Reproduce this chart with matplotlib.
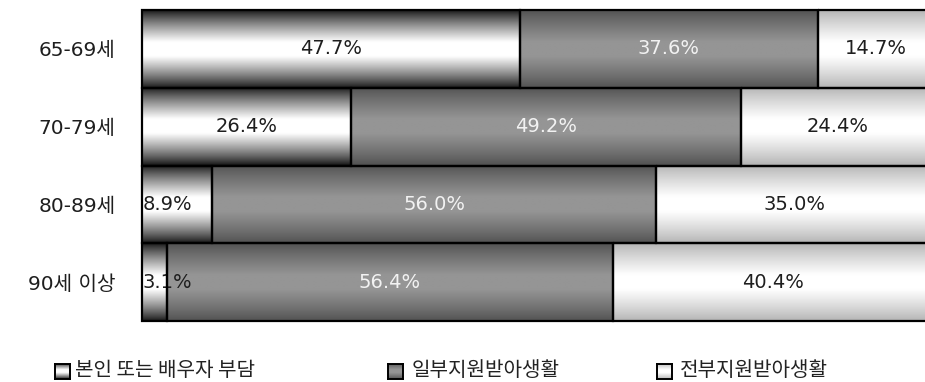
import numpy as np
import matplotlib
matplotlib.use("Agg")
import matplotlib.pyplot as plt
from matplotlib.colors import LinearSegmentedColormap

# Age groups (top to bottom) and living-cost source shares (%)
categories = ["65-69세", "70-79세", "80-89세", "90세 이상"]
series_names = ["본인 또는 배우자 부담", "일부지원받아생활", "전부지원받아생활"]
self_pay = [47.7, 26.4, 8.9, 3.1]
partial_support = [37.6, 49.2, 56.0, 56.4]
full_support = [14.7, 24.4, 35.0, 40.4]

series_values = [self_pay, partial_support, full_support]
edge_colors = ["#161616", "#515151", "#b2b2b2"]
center_colors = ["#ffffff", "#959595", "#ffffff"]
label_colors = ["#1e1e1e", "#f2f2f2", "#1e1e1e"]

LATIN_KR = ["DejaVu Sans", "Noto Sans CJK KR"]
KR = ["Noto Sans CJK KR", "DejaVu Sans"]

# Vertical "cylinder" shading: dark at top/bottom edge, bright in the middle
t = np.linspace(0, 1, 256)
s = np.abs(2 * t - 1)
shade = np.clip((1 - s) / 0.82, 0, 1) ** 0.85
shade_img = shade[:, None]

cmaps = [LinearSegmentedColormap.from_list(f"shade{j}", [edge_colors[j], center_colors[j]])
         for j in range(len(series_values))]

W, H = 925, 382
fig = plt.figure(figsize=(W / 100, H / 100), dpi=100)
ax = fig.add_axes([142 / W, 1 - 321 / H, 792 / W, 311 / H])

n = len(categories)
rows = np.arange(n)
left = np.zeros(n)
for j, vals in enumerate(series_values):
    vals = np.asarray(vals, dtype=float)
    for i in range(n):
        l, w = left[i], vals[i]
        ax.imshow(shade_img, cmap=cmaps[j], vmin=0, vmax=1, aspect="auto",
                  interpolation="bilinear",
                  extent=(l, l + w, i + 0.5, i - 0.5), zorder=1)
        if w < 10:
            ax.text(l + 0.1, i, f"{w:.1f}%", ha="left", va="center",
                    fontsize=14, color=label_colors[j], family=LATIN_KR, zorder=2)
        else:
            ax.text(l + w / 2, i, f"{w:.1f}%", ha="center", va="center",
                    fontsize=14, color=label_colors[j], family=LATIN_KR, zorder=2)
    ax.barh(rows, vals, left=left, height=1.0, fill=False, edgecolor="black",
            linewidth=1.6, zorder=3, clip_on=False)
    left += vals

ax.set_xlim(0, 100)
ax.set_ylim(n - 0.5, -0.5)
ax.set_yticks(rows)
ax.set_yticklabels(categories, family=LATIN_KR, fontsize=14.5, color="#1e1e1e")
ax.set_xticks([])
ax.tick_params(axis="y", length=0, pad=19)
for sp in ax.spines.values():
    sp.set_visible(False)

# Legend row with shaded swatches
marker_x = [55, 388, 657]
text_x = [75, 412, 680]
yc = 371
for j, name in enumerate(series_names):
    sw = fig.add_axes([marker_x[j] / W, 1 - (yc + 7.5) / H, 15 / W, 15 / H])
    sw.imshow(shade_img, cmap=cmaps[j], vmin=0, vmax=1, aspect="auto",
              interpolation="bilinear")
    sw.set_xticks([])
    sw.set_yticks([])
    for sp in sw.spines.values():
        sp.set_linewidth(1.4)
        sp.set_color("black")
    fig.text(text_x[j] / W, 1 - yc / H, name, ha="left", va="center",
             fontsize=14.5, color="#222222", family=KR)

fig.savefig("out.png", dpi=100)
